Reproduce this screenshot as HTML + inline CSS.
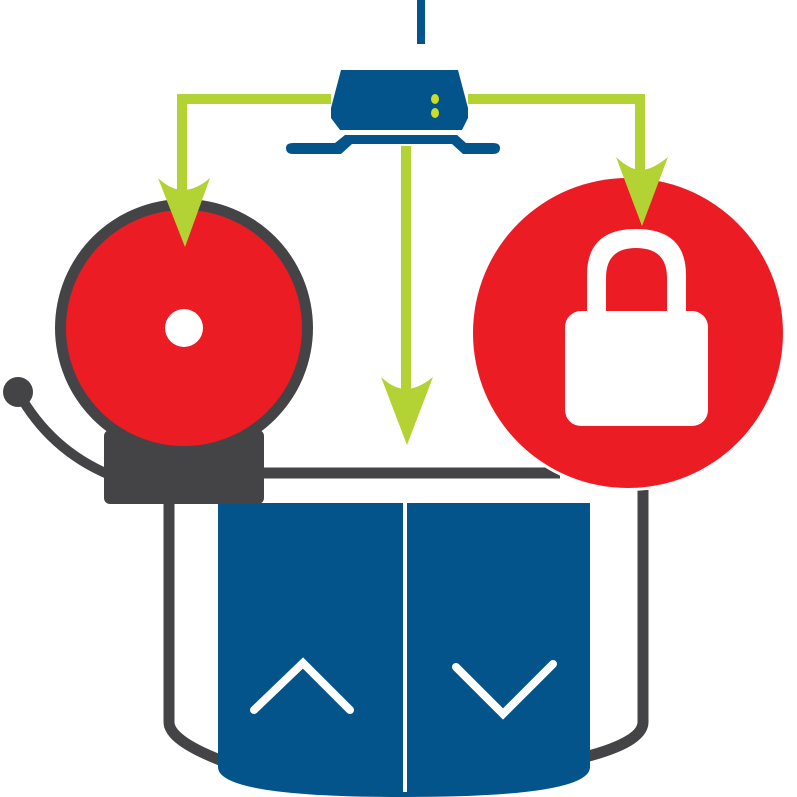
<!DOCTYPE html>
<html><head><style>html,body{margin:0;padding:0;background:#fff}svg{display:block}</style></head>
<body>
<svg width="797" height="797" viewBox="0 0 797 797" xmlns="http://www.w3.org/2000/svg">
<g fill="none" stroke="#444446" stroke-width="11">
<path d="M250 473 H560"/>
<path d="M169 500 V722 Q169 740 220 760"/>
<path d="M643 490 V722 Q643 742 585 757"/>
</g>
<path d="M218 503 H590 V767 Q590 797 404 797 Q218 797 218 767 Z" fill="#02548a"/>
<rect x="403" y="480" width="4" height="312" fill="#fff"/>
<polyline points="254,710 303,663 350,710" fill="none" stroke="#fff" stroke-width="8" stroke-linecap="round"/>
<polyline points="456,667 503,714 553,664" fill="none" stroke="#fff" stroke-width="8" stroke-linecap="round"/>
<path d="M18 392 Q50 450 110 475" fill="none" stroke="#444446" stroke-width="10"/>
<circle cx="18" cy="392" r="15" fill="#444446"/>
<rect x="104" y="430" width="160" height="74" rx="6" fill="#444446"/>
<circle cx="184" cy="328" r="129" fill="#444446"/>
<circle cx="184" cy="328" r="118" fill="#ec1c24"/>
<circle cx="184" cy="328" r="19" fill="#fff"/>
<circle cx="628" cy="333" r="158" fill="#fff"/>
<circle cx="628" cy="333" r="155" fill="#ec1c24"/>
<path d="M587 312 V275 Q587 229 636 229 Q686 229 686 275 V312 H667 V278 Q667 248 636 248 Q606 248 606 278 V312 Z" fill="#fff"/>
<rect x="565" y="311" width="143" height="115" rx="16" fill="#fff"/>
<rect x="417" y="0" width="8" height="44" fill="#02548a"/>
<path d="M341 70 H458 L468 108 V118 L462 130 H340 L331 118 V108 Z" fill="#02548a"/>
<ellipse cx="435" cy="99" rx="4" ry="5" fill="#cddc29"/>
<ellipse cx="435" cy="113" rx="4" ry="5" fill="#cddc29"/>
<path d="M345 135 H457 L466 143 H493 Q500 143 500 148 Q500 154 493 154 H463 L452 144 H352 L341 154 H293 Q286 154 286 148 Q286 143 293 143 H335 Z" fill="#02548a"/>
<g fill="none" stroke="#b3d335" stroke-width="10">
<path d="M331 99 H182 V195"/>
<path d="M468 99 H640 V178"/>
<path d="M406 146 V395"/>
</g>
<g fill="#b3d335">
<path d="M158 178 Q171 190 183 190 Q196 190 210 178 L185 247 Z"/>
<path d="M616 157 Q630 170 641 170 Q652 170 668 157 L642 226 Z"/>
<path d="M381 377 Q394 389 406 389 Q418 389 433 377 L407 445 Z"/>
</g>
</svg>
</body></html>
